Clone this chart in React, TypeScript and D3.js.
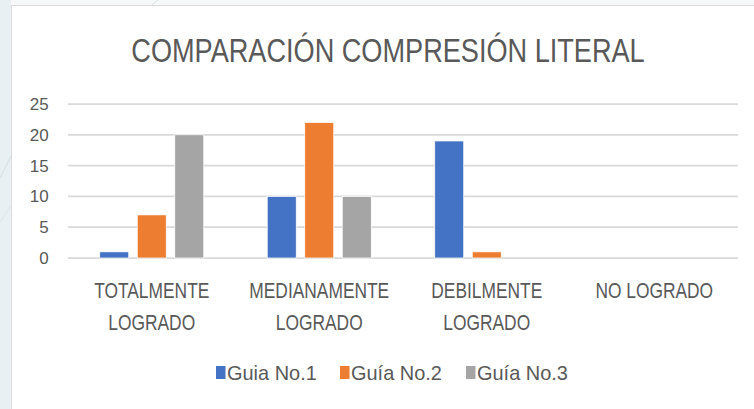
import React from "react";
import * as d3 from "d3";

const categories: string[][] = [
  ["TOTALMENTE", "LOGRADO"],
  ["MEDIANAMENTE", "LOGRADO"],
  ["DEBILMENTE", "LOGRADO"],
  ["NO LOGRADO"],
];
const seriesNames = ["Guia No.1", "Guía No.2", "Guía No.3"];
const guia1 = [1, 10, 19, 0];
const guia2 = [7, 22, 1, 0];
const guia3 = [20, 10, 0, 0];
const yTicks = [0, 5, 10, 15, 20, 25];
const colors = ["#4472C4", "#ED7D31", "#A5A5A5"];
const title = "COMPARACIÓN COMPRESIÓN LITERAL";

const W = 754;
const H = 409;
const FONT = "'Liberation Sans', Arial, sans-serif";
const TXT = "#595959";

function SText({ x, y, sx, anchor, size, children, fill = TXT }: any) {
  return (
    <g transform={`translate(${x},${y}) scale(${sx},1)`}>
      <text
        x={0}
        y={0}
        textAnchor={anchor}
        fontSize={size}
        fontFamily={FONT}
        fill={fill}
      >
        {children}
      </text>
    </g>
  );
}

export default function App() {
  React.useEffect(() => {
    document.body.style.margin = "0";
  }, []);

  const series = [guia1, guia2, guia3];
  const x0 = d3
    .scaleBand<number>()
    .domain(categories.map((_, i) => i))
    .range([68, 738])
    .paddingInner(0)
    .paddingOuter(0);
  const bw = x0.bandwidth();
  const x1 = d3
    .scaleBand<number>()
    .domain([0, 1, 2])
    .range([bw * 0.164, bw * 0.836])
    .paddingInner(0.227)
    .paddingOuter(0.1135);
  const y = d3.scaleLinear().domain([0, 25]).range([258, 104]);

  const legendX = [216, 340, 466];

  return (
    <svg
      width={W}
      height={H}
      style={{ position: "absolute", left: 0, top: 0, display: "block" }}
    >
      <rect x={0} y={0} width={W} height={H} fill="#f6f8f9" />
      <rect x={0} y={0} width={11} height={H} fill="#e9f0f3" />
      <line x1={0} y1={178} x2={11} y2={156} stroke="#d5dfe4" strokeWidth={1} />
      <line x1={0} y1={222} x2={11} y2={206} stroke="#dde5e9" strokeWidth={1} />
      <line x1={158} y1={0} x2={152} y2={5} stroke="#d5dfe4" strokeWidth={1} />
      <rect x={11} y={5} width={W - 11} height={H - 5} fill="#ffffff" />
      <line x1={11} y1={5.5} x2={W} y2={5.5} stroke="#dcdcdc" strokeWidth={1} />
      <line x1={11.5} y1={5} x2={11.5} y2={H} stroke="#dcdcdc" strokeWidth={1} />

      <SText x={388} y={61.5} sx={0.81} anchor="middle" size={33.5}>
        {title}
      </SText>

      {yTicks.map((t) => (
        <g key={t}>
          <line
            x1={68}
            x2={738}
            y1={y(t)}
            y2={y(t)}
            stroke="#d9d9d9"
            strokeWidth={1.75}
          />
          <SText x={48.7} y={y(t) + 6} sx={1} anchor="end" size={17}>
            {String(t)}
          </SText>
        </g>
      ))}

      {categories.map((_, ci) => (
        <g key={ci} transform={`translate(${x0(ci)},0)`}>
          {series.map((s, si) =>
            s[ci] > 0 ? (
              <rect
                key={si}
                x={x1(si)}
                width={x1.bandwidth()}
                y={y(s[ci])}
                height={y(0) - y(s[ci])}
                fill={colors[si]}
                stroke="#ffffff"
                strokeWidth={0.75}
              />
            ) : null
          )}
        </g>
      ))}

      {categories.map((lines, ci) =>
        lines.map((ln, li) => (
          <SText
            key={ci + "-" + li}
            x={(x0(ci) as number) + bw / 2}
            y={298.3 + li * 31.5}
            sx={0.79}
            anchor="middle"
            size={22}
          >
            {ln}
          </SText>
        ))
      )}

      {seriesNames.map((n, i) => (
        <g key={n}>
          <rect x={legendX[i]} y={366} width={9.5} height={13} fill={colors[i]} />
          <SText x={legendX[i] + 11} y={380} sx={0.95} anchor="start" size={21}>
            {n}
          </SText>
        </g>
      ))}
    </svg>
  );
}
